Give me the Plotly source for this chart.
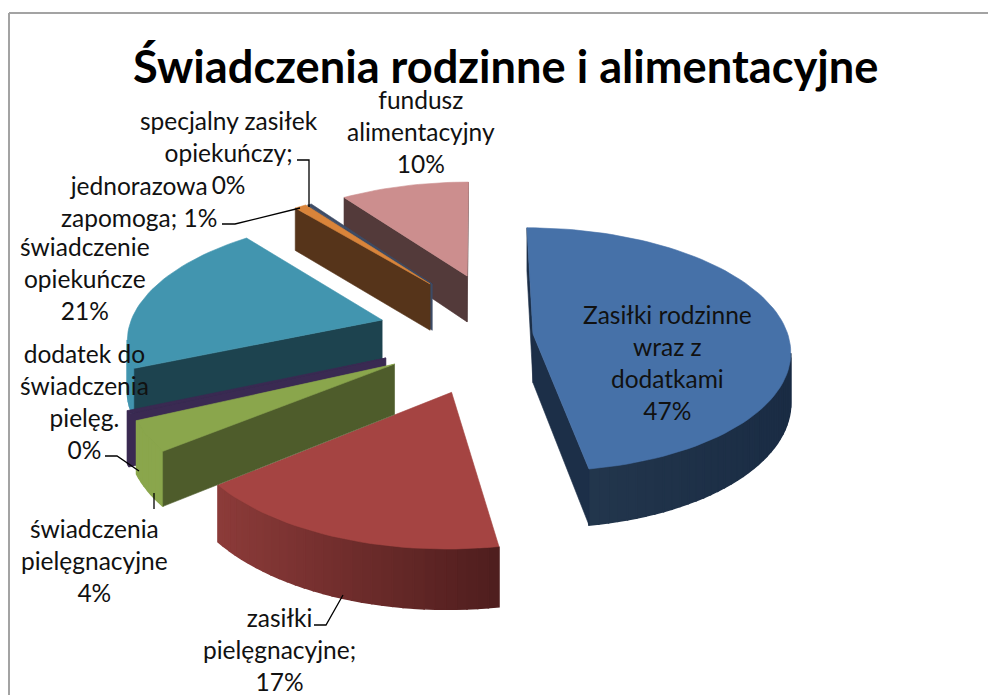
import math
import plotly.graph_objects as go

# ---- data ----
categories = ["Zasiłki rodzinne wraz z dodatkami", "zasiłki pielęgnacyjne",
              "świadczenia pielęgnacyjne", "dodatek do świadczenia pielęg.",
              "świadczenie opiekuńcze", "jednorazowa zapomoga",
              "specjalny zasiłek opiekuńczy", "fundusz alimentacyjny"]
shares = [47.4, 16.9, 3.9, 0.4, 20.6, 0.9, 0.3, 9.7]

# ---- styling: slice explosion in pie-plane units, colours ----
pull_x = [0.208, -0.105, -0.325, -0.36, -0.39, -0.207, -0.198, -0.054]
pull_y = [0.01, -0.45, -0.235, -0.187, 0.127, 0.45, 0.45, 0.525]
top_col = ["#4671A8", "#A54442", "#8AA64C", "#3A2A52", "#4295AF", "#D9843A", "#3D4C66", "#CC8E8E"]
wall_col = ["#1C2F48", "#5A2423", "#4E5C2B", "#3A2A52", "#1D434F", "#56341A", "#3D4C66", "#533A3A"]
arc_left = ["#25394F", "#8C3B39", "#8AA64C", "#3A2A52", "#4295AF", "#56341A", "#3D4C66", "#A87070"]
arc_right = ["#1A2C44", "#4E1D1D", "#8AA64C", "#3A2A52", "#3A8AA3", "#56341A", "#3D4C66", "#A87070"]
draw_order = [7, 6, 5, 0, 1, 4, 3, 2]

X0, Y0, B, A, K, DEPTH = 480.0, 335.0, 255.0, 120.0, 0.129, 49.0


def project(px, py, drop=False):
    s = 1.0 / (1.0 + K * py)
    return X0 + B * px * s, Y0 - A * py * s + (DEPTH * s if drop else 0.0)


def hex_mix(a, b, t):
    ca = [int(a[i:i + 2], 16) for i in (1, 3, 5)]
    cb = [int(b[i:i + 2], 16) for i in (1, 3, 5)]
    return "#%02X%02X%02X" % tuple(round(u + (v - u) * t) for u, v in zip(ca, cb))


def poly(xs, ys, color, width=0.6):
    return go.Scatter(x=xs + xs[:1], y=ys + ys[:1], mode="lines", fill="toself",
                      fillcolor=color, line=dict(color=color, width=width),
                      hoverinfo="skip", showlegend=False)


total = sum(shares)
edges = [0.0]
for v in shares:
    edges.append(edges[-1] + v / total * 360.0)

fig = go.Figure()
for i in draw_order:
    a0, a1 = edges[i], edges[i + 1]
    n = max(2, int((a1 - a0) / 2) + 1)
    rim = []
    for j in range(n + 1):
        t = math.radians(a0 + (a1 - a0) * j / n)
        rim.append((pull_x[i] + math.sin(t), pull_y[i] + math.cos(t)))
    apex = (pull_x[i], pull_y[i])
    outline = [apex] + rim
    walls = []
    seq = outline + [apex]
    for k in range(len(seq) - 1):
        p, q = seq[k], seq[k + 1]
        ax, ay = project(*p)
        bx, by = project(*q)
        cx, cy = project(*q, drop=True)
        dx, dy = project(*p, drop=True)
        qx = [ax, bx, cx, dx]
        qy = [ay, by, cy, dy]
        area = sum(qx[m] * qy[(m + 1) % 4] - qx[(m + 1) % 4] * qy[m] for m in range(4))
        if area >= 0:
            continue  # faces away from the viewer
        radial = k == 0 or k == len(seq) - 2
        if radial:
            col = wall_col[i]
        else:
            xs_all = [project(*r)[0] for r in rim]
            lo, hi = min(xs_all), max(xs_all)
            col = hex_mix(arc_left[i], arc_right[i], ((ax + bx) / 2 - lo) / max(hi - lo, 1e-6))
        walls.append((radial, qx, qy, col))
    # arc faces first, radial faces over them where they meet
    for radial, qx, qy, col in sorted(walls, key=lambda w: w[0]):
        fig.add_trace(poly(qx, qy, col, width=0.6 if radial else 1.6))
    pts = [project(*p) for p in outline]
    fig.add_trace(poly([p[0] for p in pts], [p[1] for p in pts], top_col[i]))

# ---- labels ----
labels = [
    ("Zasiłki rodzinne<br>wraz z<br>dodatkami<br>47%", 667, 362),
    ("zasiłki<br>pielęgnacyjne;<br>17%", 279, 649),
    ("świadczenia<br>pielęgnacyjne<br>4%", 94, 560),
    ("dodatek do<br>świadczenia<br>pielęg.<br>0%", 84, 401),
    ("świadczenie<br>opiekuńcze<br>21%", 85, 278),
    ("jednorazowa<br>zapomoga; 1%", 139, 201),
    ("specjalny zasiłek<br>opiekuńczy;<br>0%", 229, 152),
    ("fundusz<br>alimentacyjny<br>10%", 421, 131),
]
for text, lx, ly in labels:
    fig.add_annotation(x=lx, y=ly, text=text, showarrow=False, xanchor="center", yanchor="middle",
                       align="center", font=dict(family="Lato", size=24.5, color="#111111"))
fig.add_annotation(x=505, y=65, text="<b>Świadczenia rodzinne i alimentacyjne</b>", showarrow=False,
                   xanchor="center", yanchor="middle", font=dict(family="Lato", size=45.2, color="#000000"))

leaders = [
    ([297, 309, 309], [160, 160, 207]),
    ([222, 235, 300], [224, 224, 208]),
    ([105, 117, 139], [456, 456, 471]),
    ([154, 154], [509, 493]),
    ([314, 326, 343], [625, 625, 595]),
]
for lx, ly in leaders:
    fig.add_trace(go.Scatter(x=lx, y=ly, mode="lines", line=dict(color="#000000", width=1.3),
                             hoverinfo="skip", showlegend=False))

fig.update_layout(
    width=988, height=695, margin=dict(l=0, r=0, t=0, b=0),
    paper_bgcolor="#FFFFFF", plot_bgcolor="#FFFFFF", showlegend=False,
    xaxis=dict(range=[0, 988], visible=False, fixedrange=True),
    yaxis=dict(range=[695, 0], visible=False, fixedrange=True),
    shapes=[
        dict(type="line", x0=9, y0=13, x1=988, y1=13, line=dict(color="#A3A3A3", width=2)),
        dict(type="line", x0=9, y0=13, x1=9, y1=695, line=dict(color="#A3A3A3", width=2)),
    ],
)
fig.write_html("out.html", config=dict(displayModeBar=False),
               post_script="document.body.style.margin='0';")
